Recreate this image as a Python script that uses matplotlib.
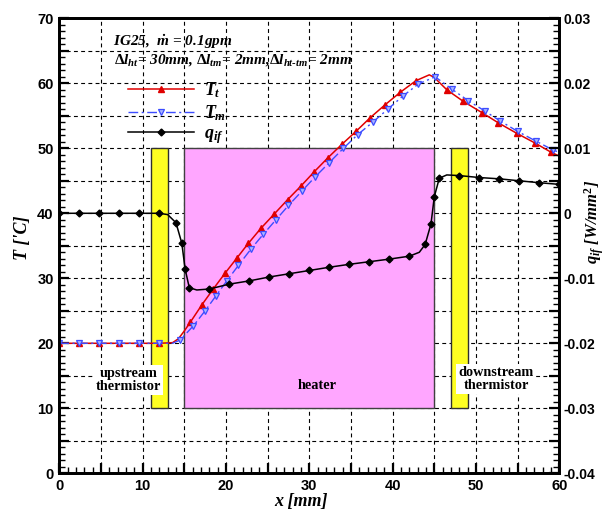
import matplotlib
matplotlib.use("Agg")
import matplotlib.pyplot as plt
import numpy as np
from matplotlib.patches import Rectangle
from matplotlib.ticker import MultipleLocator, FuncFormatter

# ---- data ----
# wall temperature T_t  (x in mm, T in degC), mark = draw marker
tt_x = [0, 2.4, 4.8, 7.2, 9.6, 12.0, 13.6, 14.3, 15.0, 15.7, 17.1, 18.5, 19.9, 21.3, 22.7,
        24.2, 25.8, 27.4, 29.0, 30.6, 32.2, 33.9, 35.6, 37.3, 39.1, 40.9, 42.8, 44.4, 45.0,
        46.5, 48.5, 50.7, 52.7, 54.9, 57.1, 59.0, 60.0]
tt_T = [20, 20, 20, 20, 20, 20, 20.1, 20.7, 21.9, 23.2, 25.9, 28.4, 30.8, 33.1, 35.4,
        37.7, 39.9, 42.1, 44.2, 46.4, 48.5, 50.6, 52.6, 54.7, 56.7, 58.6, 60.4, 61.3, 60.9,
        59.0, 57.2, 55.5, 53.9, 52.3, 50.8, 49.4, 48.8]
tt_mark = [1, 1, 1, 1, 1, 1, 0, 0, 0, 1, 1, 1, 1, 1, 1,
           1, 1, 1, 1, 1, 1, 1, 1, 1, 1, 1, 1, 0, 0,
           1, 1, 1, 1, 1, 1, 1, 0]

# mean fluid temperature T_m
tm_x = [0, 2.4, 4.8, 7.2, 9.6, 12.0, 13.6, 14.5, 16.1, 17.5, 18.8, 20.1, 21.5, 23.0, 24.5,
        26.0, 27.5, 29.1, 30.7, 32.4, 34.1, 35.8, 37.6, 39.4, 41.2, 43.1, 45.1, 47.1, 49.1,
        51.1, 52.9, 55.0, 57.2, 59.3, 60.0]
tm_T = [20, 20, 20, 20, 20, 20, 20.0, 20.5, 22.7, 25.0, 27.3, 29.6, 32.0, 34.5, 36.8,
        39.0, 41.2, 43.4, 45.6, 47.8, 50.0, 52.1, 54.0, 56.0, 58.0, 59.9, 61.0, 59.1, 57.3,
        55.7, 54.2, 52.6, 51.1, 49.7, 49.4]
tm_mark = [1, 1, 1, 1, 1, 1, 0, 1, 1, 1, 1, 1, 1, 1, 1,
           1, 1, 1, 1, 1, 1, 1, 1, 1, 1, 1, 1, 1, 1,
           1, 1, 1, 1, 1, 0]

# interfacial heat flux q_if (W/mm^2)
q_x = [0, 2.4, 4.8, 7.2, 9.6, 12.0, 13.0, 14.0, 14.7, 15.1, 15.6, 16.5, 18.0, 20.4, 22.8,
       25.2, 27.6, 30.0, 32.4, 34.8, 37.2, 39.6, 42.0, 43.2, 43.9, 44.6, 45.0, 45.6, 46.5,
       48.0, 50.4, 52.8, 55.2, 57.6, 60.0]
q_v = [0, 0, 0, 0, 0, 0, -0.0002, -0.00145, -0.0046, -0.0086, -0.01145, -0.0118, -0.01165,
       -0.0109, -0.0104, -0.0098, -0.0093, -0.0088, -0.0083, -0.00785, -0.00745, -0.00705,
       -0.0066, -0.0060, -0.0048, -0.00165, 0.00255, 0.0054, 0.0059, 0.0058, 0.0055, 0.0053,
       0.0050, 0.0047, 0.00445]
q_mark = [1, 1, 1, 1, 1, 1, 0, 1, 1, 1, 1, 0, 1, 1, 1,
          1, 1, 1, 1, 1, 1, 1, 1, 0, 1, 1, 1, 1, 0,
          1, 1, 1, 1, 1, 1]

heater = (15, 45)
thermistors = [(11, 13), (47, 49)]
block_T = (10, 50)

# ---- fonts ----
plt.rcParams['font.family'] = ['Liberation Sans', 'DejaVu Sans']
plt.rcParams['mathtext.fontset'] = 'custom'
plt.rcParams['mathtext.it'] = 'Liberation Serif:italic:bold'
plt.rcParams['mathtext.rm'] = 'Liberation Serif:bold'
plt.rcParams['mathtext.bf'] = 'Liberation Serif:bold'
serif = dict(family='Liberation Serif', weight='bold', style='italic')

fig = plt.figure(figsize=(6.12, 5.15), dpi=100)
ax = fig.add_axes([0.0969, 0.081, 0.8170, 0.8835])
ax2 = ax.twinx()

ax.set_xlim(0, 60)
ax.set_ylim(0, 70)
ax2.set_ylim(-0.04, 0.03)

ax.set_axisbelow(True)
ax.grid(True, color='black', lw=0.8, linestyle=(0, (3.5, 3)))

# blocks
ax.add_patch(Rectangle((heater[0], block_T[0]), heater[1] - heater[0], block_T[1] - block_T[0],
                       fc='#FFA6FF', ec='#404040', lw=1.0, zorder=1))
for a, b in thermistors:
    ax.add_patch(Rectangle((a, block_T[0]), b - a, block_T[1] - block_T[0],
                           fc='#FFFF22', ec='#303030', lw=1.0, zorder=1))

txt = dict(family='Liberation Serif', weight='bold', fontsize=10.3, ha='center', va='center',
           linespacing=1.0, zorder=3)
ax.text(8.3, 14.3, "upstream\nthermistor", bbox=dict(fc='white', ec='none', pad=1.5), **txt)
ax.text(52.4, 14.5, "downstream\nthermistor", bbox=dict(fc='white', ec='none', pad=1.5), **txt)
ax.text(31.0, 13.5, "heater", **txt)

# curves
def marks(m):
    return [i for i, v in enumerate(m) if v]

l1, = ax.plot(tt_x, tt_T, '-', color='#E00000', lw=1.1, marker='^', ms=4.5,
              mfc='#E00000', mec='#E00000', markevery=marks(tt_mark), zorder=4)
l2, = ax.plot(tm_x, tm_T, color='#3C4CFF', lw=1.0, linestyle=(0, (7, 2.5, 1.5, 2.5)),
              marker='v', ms=5, mfc='#A8B4FF', mec='#3C4CFF', mew=0.9,
              markevery=marks(tm_mark), zorder=4)
l3, = ax2.plot(q_x, q_v, '-', color='black', lw=1.1, marker='D', ms=3.5,
               markevery=marks(q_mark), zorder=4)

ax.legend([l1, l2, l3], [r'$T_t$', r'$T_m$', r'$q_{if}$'], loc='upper left',
          bbox_to_anchor=(0.104, 0.899), frameon=False, handlelength=3.7,
          fontsize=13, labelspacing=0.15, handletextpad=0.55)

ax.text(6.4, 66.4, r"IG25,  $\dot{m}$ = 0.1gpm", fontsize=11, va='center', **serif)
ax.text(6.6, 63.6, r"$\Delta l_{ht}$= 30mm, $\Delta l_{tm}$= 2mm,$\Delta l_{ht\text{-}tm}$= 2mm",
        fontsize=11, va='center', **serif)

# ticks
ax.xaxis.set_major_locator(MultipleLocator(5))
ax.xaxis.set_minor_locator(MultipleLocator(1))
ax.yaxis.set_major_locator(MultipleLocator(5))
ax.yaxis.set_minor_locator(MultipleLocator(1))
ax2.yaxis.set_major_locator(MultipleLocator(0.005))
ax2.yaxis.set_minor_locator(MultipleLocator(0.001))

ax.xaxis.set_major_formatter(FuncFormatter(lambda v, p: f"{v:.0f}" if round(v) % 10 == 0 else ""))
ax.yaxis.set_major_formatter(FuncFormatter(lambda v, p: f"{v:.0f}" if round(v) % 10 == 0 else ""))

def qfmt(v, p):
    k = int(round(v * 1000))
    if k % 10:
        return ""
    return "0" if k == 0 else f"{v:.2f}"
ax2.yaxis.set_major_formatter(FuncFormatter(qfmt))

ax.tick_params(which='both', direction='in', top=False, right=False)
ax.tick_params(which='major', length=7, width=1.6, labelsize=10.5, pad=4)
ax.tick_params(which='minor', length=4, width=1.0)
ax2.tick_params(which='both', direction='in')
ax2.tick_params(which='major', length=7, width=1.6, labelsize=10, pad=3)
ax2.tick_params(which='minor', length=4, width=1.0)
for a in (ax, ax2):
    for lab in a.get_xticklabels() + a.get_yticklabels():
        lab.set_fontweight('bold')
    for s in a.spines.values():
        s.set_linewidth(2.0)

fig.text(0.036, 0.538, "T ['C]", rotation=90, ha='center', va='center', fontsize=13, **serif)
fig.text(0.971, 0.57, r"$q_{if}$ [W/mm$^2$]", rotation=90, ha='center', va='center',
         fontsize=12, **serif)
fig.text(0.492, 0.026, "x [mm]", ha='center', va='center', fontsize=13, **serif)

fig.savefig("out.png", dpi=100)
